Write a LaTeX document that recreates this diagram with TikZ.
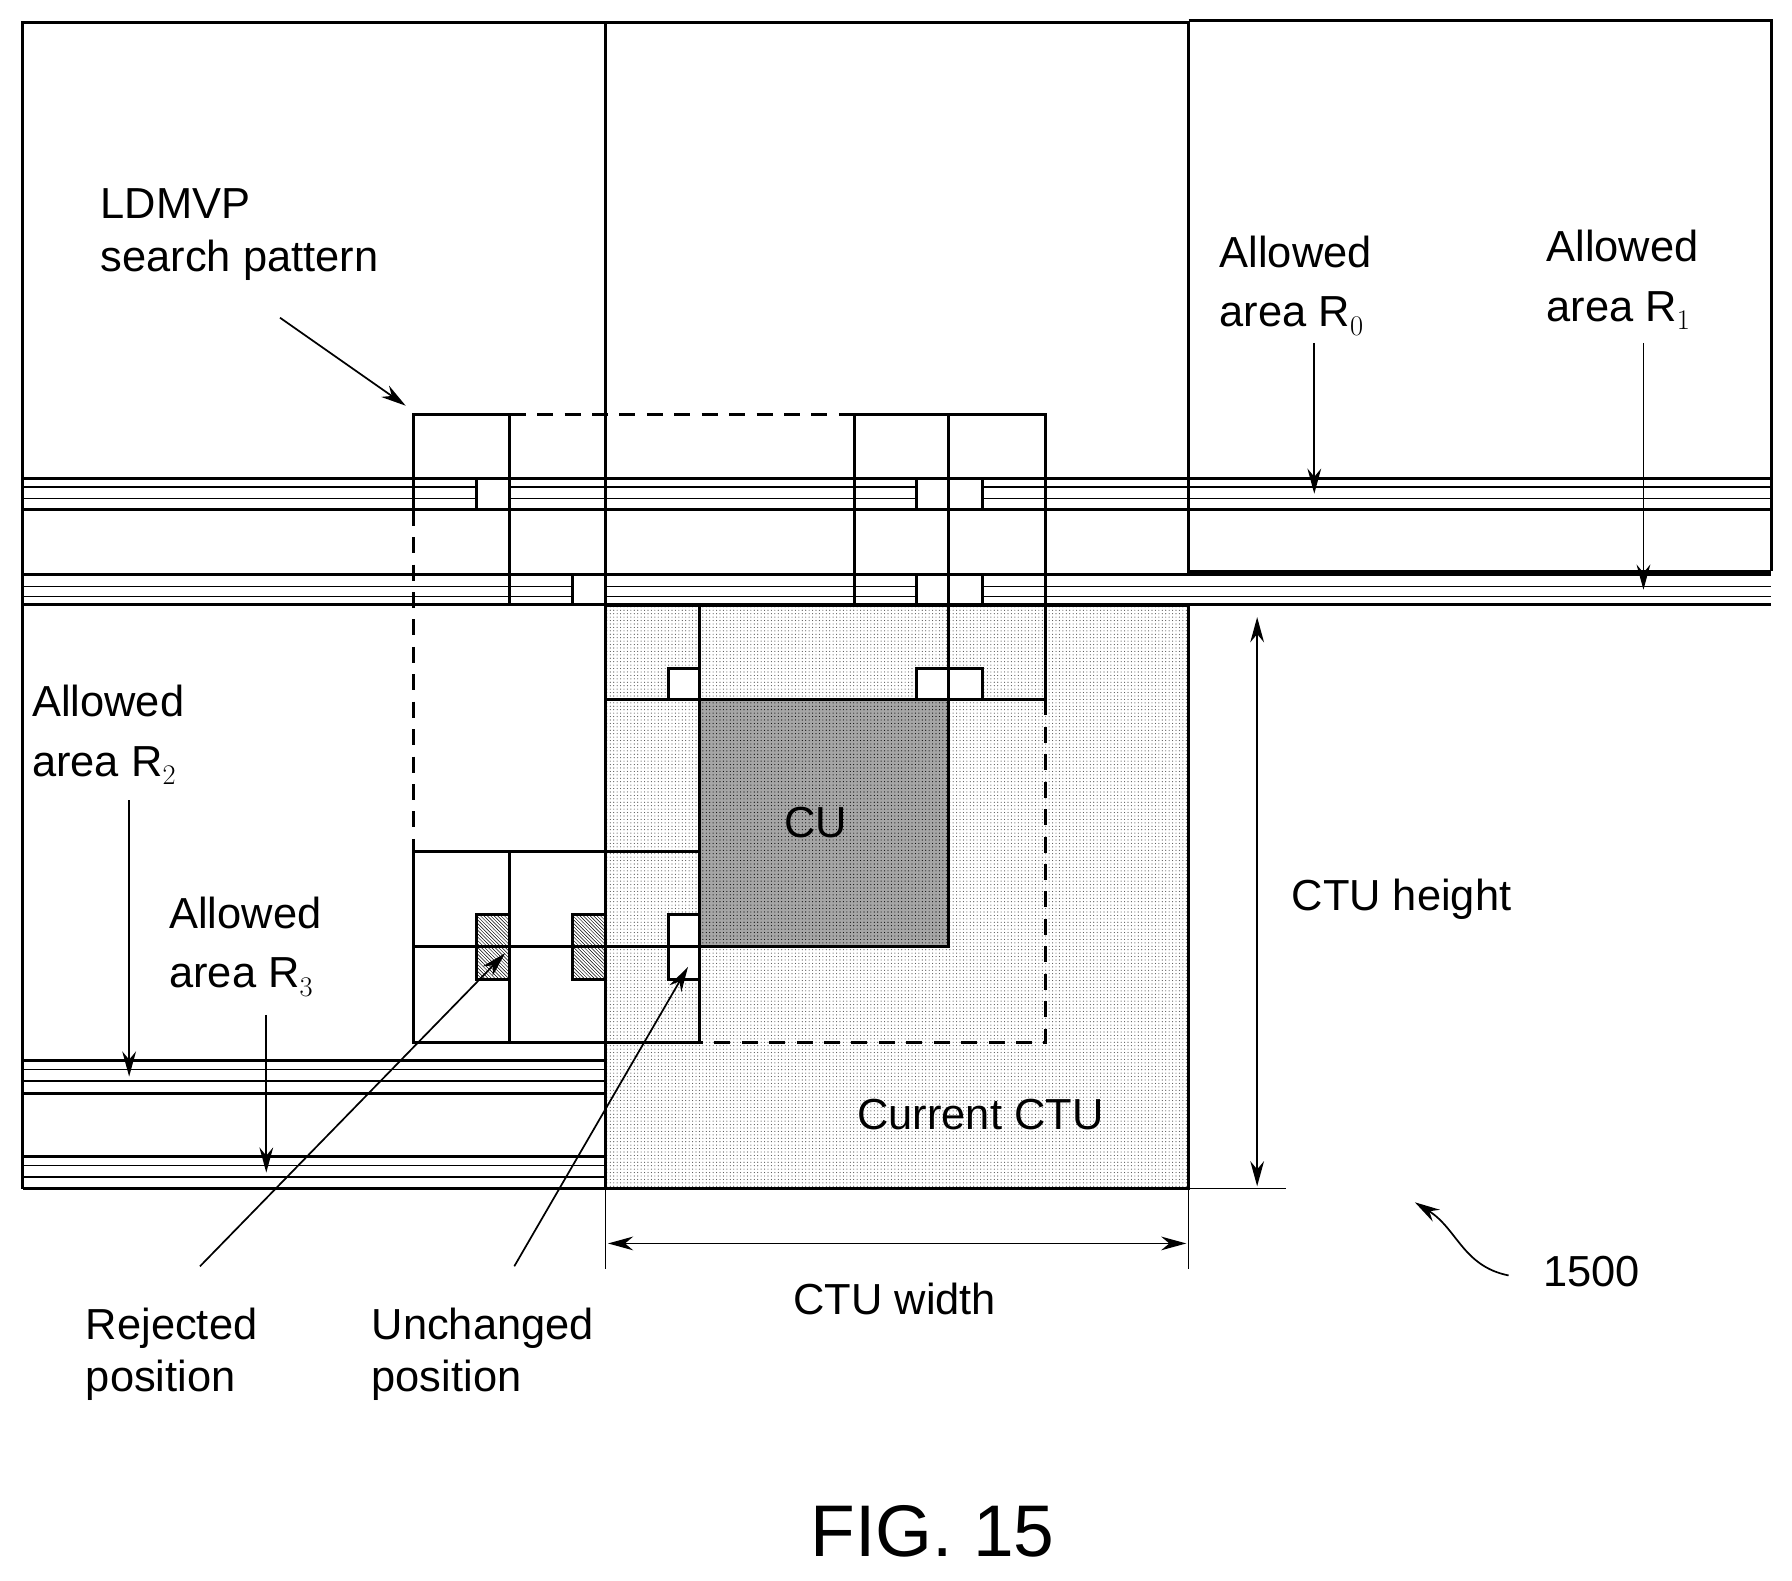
\documentclass[tikz,border=0pt]{standalone}
\usepackage{fontspec}
\setmainfont{Liberation Sans}
\usetikzlibrary{patterns,arrows.meta}
\begin{document}
\begin{tikzpicture}[x=1pt,y=-1pt,
  th/.style={line width=2.6pt},
  tn/.style={line width=1.3pt},
  dsh/.style={line width=2.6pt,dash pattern=on 14pt off 10pt},
  arr/.style={line width=1.5pt,-{Stealth[length=22pt,width=12pt]}},
  darr/.style={line width=1.5pt,{Stealth[length=22pt,width=12pt]}-{Stealth[length=22pt,width=12pt]}},
  lbl/.style={font=\fontsize{38}{46}\selectfont,anchor=west,align=left,inner sep=0pt}]
\useasboundingbox (0,0) rectangle (1568,1383);
% fills
\fill[pattern=dots,pattern color=black!70] (530,530) rectangle (1040,1040);
\fill[black!35] (612,612) rectangle (830,828);
\fill[pattern=dots,pattern color=black] (612,612) rectangle (830,828);
% top area
\draw[th] (20,1040) -- (20,20) -- (1040,20);
\draw[th] (1040,18) -- (1550,18) -- (1550,500);
\draw[th] (530,20) -- (530,530);
\draw[th] (1040,18) -- (1040,500) -- (1550,500);
% band R0
\draw[th] (20,419) -- (1550,419); \draw[th] (20,446) -- (1550,446);
\draw[tn] (20,426) -- (1550,426); \draw[tn] (20,436) -- (1550,436);
% band R1
\draw[th] (20,503) -- (1550,503); \draw[th] (20,529) -- (1550,529);
\draw[tn] (20,513) -- (1550,513); \draw[tn] (20,522) -- (1550,522);
% lower left bands
\draw[th] (20,928) -- (530,928); \draw[th] (20,957) -- (530,957);
\draw[tn] (20,936) -- (530,936); \draw[tn] (20,946) -- (530,946);
\draw[th] (20,1012) -- (530,1012); \draw[th] (20,1040) -- (530,1040);
\draw[tn] (20,1020) -- (530,1020); \draw[tn] (20,1030) -- (530,1030);
% current CTU
\draw[th] (530,530) rectangle (1040,1040);
% search pattern
\draw[th] (362,446) -- (362,363) -- (446,363) -- (446,530);
\draw[dsh] (446,363) -- (748,363);
\draw[dsh] (362,446) -- (362,745);
\draw[th] (748,530) -- (748,363) -- (915,363) -- (915,612);
\draw[th] (830,363) -- (830,585);
\draw[dsh] (915,612) -- (915,912) -- (612,912);
\draw[th] (612,530) -- (612,912);
\draw[th] (530,612) -- (915,612);
\draw[th] (362,745) rectangle (612,912);
\draw[th] (446,745) -- (446,912);
\draw[th] (362,828) -- (612,828);
\draw[th] (830,612) -- (830,828) -- (612,828);
% small squares
\foreach \a/\b/\c/\d in {417/419/446/446, 802/419/830/446, 830/419/860/446,
  501/503/530/529, 802/503/830/529, 830/503/860/529,
  585/585/612/612, 802/585/830/612, 830/585/860/612,
  585/800/612/828, 585/828/612/857}
  \draw[th,fill=white] (\a,\b) rectangle (\c,\d);
\foreach \a in {417,501}{
  \draw[th,pattern=north west lines,pattern color=black] (\a,800) rectangle (\a+29,857);
  \draw[th] (\a,828) -- (\a+29,828);}
% dimensions
\draw[darr] (1100,540) -- (1100,1038);
\draw[tn] (1040,1040) -- (1125,1040);
\draw[tn] (530,1040) -- (530,1110); \draw[tn] (1040,1040) -- (1040,1110);
\draw[darr] (532,1088) -- (1038,1088);
% labels
\node[lbl] (ld) at (88,205) {LDMVP\\search pattern};
\node[lbl] (r0) at (1067,250) {Allowed\\[6pt]area R$_0$};
\node[lbl] (r1) at (1353,245) {Allowed\\[6pt]area R$_1$};
\node[lbl] (r2) at (28,643) {Allowed\\[6pt]area R$_2$};
\node[lbl] (r3) at (148,828) {Allowed\\[6pt]area R$_3$};
\node[lbl] (cu) at (686,720) {CU};
\node[lbl] (cc) at (750,975) {Current CTU};
\node[lbl] (ch) at (1130,787) {CTU height};
\node[lbl] (cw) at (694,1137) {CTU width};
\node[lbl] (rj) at (75,1185) {Rejected\\position};
\node[lbl] (uc) at (325,1185) {Unchanged\\position};
\node[lbl] (n1500) at (1350,1113) {1500};
\node[font=\fontsize{64}{70}\selectfont,inner sep=0pt] (fig) at (816,1340) {FIG. 15};
% arrows
\coordinate (a1) at (245,278); \coordinate (a1e) at (355,355);
\draw[arr] (a1) -- (a1e);
\coordinate (b1) at (1150,300); \coordinate (b1e) at (1150,432);
\draw[arr] (b1) -- (b1e);
\coordinate (c1) at (1438,300); \coordinate (c1e) at (1438,516);
\draw[arr] (c1) -- (c1e);
\coordinate (d1) at (113,700); \coordinate (d1e) at (113,942);
\draw[arr] (d1) -- (d1e);
\coordinate (e1) at (233,888); \coordinate (e1e) at (233,1026);
\draw[arr] (e1) -- (e1e);
\coordinate (f1) at (175,1108); \coordinate (f1e) at (442,834);
\draw[arr] (f1) -- (f1e);
\coordinate (g1) at (450,1108); \coordinate (g1e) at (602,846);
\draw[arr] (g1) -- (g1e);
\coordinate (h1) at (1320,1116); \coordinate (h1e) at (1238,1052);
\draw[arr] (h1) .. controls (1280,1108) and (1275,1075) .. (h1e);
\end{tikzpicture}
\end{document}
